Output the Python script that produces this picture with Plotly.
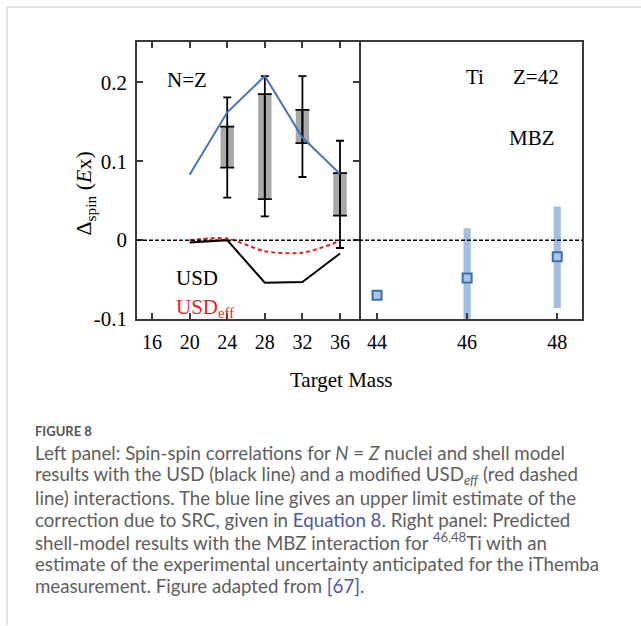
import plotly.graph_objects as go

W, H = 641, 640      # layout size
HT = 626             # target picture height used for positioning

# ---------------- data ----------------
mass_nz = [20, 24, 28, 32, 36]
src_upper = [0.083, 0.162, 0.208, 0.130, 0.084]
usd = [-0.003, 0.0, -0.054, -0.053, -0.017]
usd_eff = [0.0, 0.002, -0.014, -0.016, -0.001]

mass_exp = [24, 28, 32, 36]
err_lo = [0.054, 0.030, 0.080, -0.010]
err_hi = [0.181, 0.208, 0.208, 0.126]
box_lo = [0.092, 0.052, 0.123, 0.031]
box_hi = [0.144, 0.185, 0.165, 0.085]

ti_mass = [44, 46, 48]
ti_val = [-0.070, -0.048, -0.021]
unc_mass = [46, 48]
unc_lo = [-0.100, -0.086]
unc_hi = [0.015, 0.0425]

x_left_ticks = [16, 20, 24, 28, 32, 36]
x_right_ticks = [44, 46, 48]
y_ticks = [-0.1, 0, 0.1, 0.2]
y_ticktext = ["-0.1", "0", "0.1", "0.2"]


def px(x):
    return x / W


def py(y):
    return 1 - y / HT


SERIF = "Liberation Serif"
SANS = "Lato"

fig = go.Figure()

# gray boxes
fig.add_trace(go.Bar(
    x=mass_exp, base=box_lo, y=[h - l for h, l in zip(box_hi, box_lo)],
    width=1.42, marker=dict(color="#a8a8a8", line=dict(width=0)),
    xaxis="x", yaxis="y", showlegend=False))

# box top/bottom black lines (as wide caps)
fig.add_trace(go.Scatter(
    x=mass_exp, y=[(h + l) / 2 for h, l in zip(box_hi, box_lo)],
    mode="markers", marker=dict(size=0.1, color="rgba(0,0,0,0)"),
    error_y=dict(type="data", symmetric=True,
                 array=[(h - l) / 2 for h, l in zip(box_hi, box_lo)],
                 width=7, thickness=1.8, color="black"),
    xaxis="x", yaxis="y", showlegend=False))

# error bars
fig.add_trace(go.Scatter(
    x=mass_exp, y=[(h + l) / 2 for h, l in zip(err_hi, err_lo)],
    mode="markers", marker=dict(size=0.1, color="rgba(0,0,0,0)"),
    error_y=dict(type="data", symmetric=True,
                 array=[(h - l) / 2 for h, l in zip(err_hi, err_lo)],
                 width=4, thickness=1.8, color="black"),
    xaxis="x", yaxis="y", showlegend=False))

# blue SRC upper limit
fig.add_trace(go.Scatter(x=mass_nz, y=src_upper, mode="lines",
                         line=dict(color="#4472c4", width=2),
                         xaxis="x", yaxis="y", showlegend=False))
# USD
fig.add_trace(go.Scatter(x=mass_nz, y=usd, mode="lines",
                         line=dict(color="black", width=2),
                         xaxis="x", yaxis="y", showlegend=False))
# USD_eff
fig.add_trace(go.Scatter(x=mass_nz, y=usd_eff, mode="lines",
                         line=dict(color="#ee1c1c", width=2, dash="4px,3px",
                                   shape="spline", smoothing=0.8),
                         xaxis="x", yaxis="y", showlegend=False))

# right panel uncertainty bars
fig.add_trace(go.Bar(
    x=unc_mass, base=unc_lo, y=[h - l for h, l in zip(unc_hi, unc_lo)],
    width=0.16, marker=dict(color="rgba(120,163,214,0.7)", line=dict(width=0)),
    xaxis="x2", yaxis="y2", showlegend=False))

# right panel squares
fig.add_trace(go.Scatter(
    x=ti_mass, y=ti_val, mode="markers",
    marker=dict(symbol="square", size=9, color="#a9c6e8",
                line=dict(color="#3d6fae", width=2)),
    xaxis="x2", yaxis="y2", showlegend=False))

frame = "#3a3a3a"
ydom = [py(318), py(42)]
x1dom = [px(137), px(359)]
x2dom = [px(359), px(582)]

fig.update_layout(
    width=W, height=H,
    margin=dict(l=0, r=0, t=0, b=0),
    paper_bgcolor="white", plot_bgcolor="rgba(0,0,0,0)",
    barmode="overlay",
    xaxis=dict(domain=x1dom, range=[14.4, 38.02], tickvals=x_left_ticks,
               ticks="inside", ticklen=6, tickwidth=1.5, tickcolor=frame,
               showline=True, linecolor=frame, linewidth=1.5, mirror="ticks",
               showgrid=False, zeroline=False, anchor="y",
               tickfont=dict(family=SERIF, size=20, color="black"),
               ticklabelstandoff=4),
    xaxis2=dict(domain=x2dom, range=[43.6, 48.55], tickvals=x_right_ticks,
                ticks="inside", ticklen=6, tickwidth=1.5, tickcolor=frame,
                showline=True, linecolor=frame, linewidth=1.5, mirror=True,
                showgrid=False, zeroline=False, anchor="y2",
                tickfont=dict(family=SERIF, size=20, color="black"),
                ticklabelstandoff=4),
    yaxis=dict(domain=ydom, range=[-0.1, 0.251], tickvals=y_ticks,
               ticktext=y_ticktext,
               ticks="inside", ticklen=6, tickwidth=1.5, tickcolor=frame,
               showline=True, linecolor=frame, linewidth=1.5, mirror="ticks",
               showgrid=False, zeroline=False, anchor="x",
               tickfont=dict(family=SERIF, size=21, color="black"),
               ticklabelstandoff=4),
    yaxis2=dict(domain=ydom, range=[-0.1, 0.251], showticklabels=False,
                ticks="", showline=True, linecolor=frame, linewidth=1.5,
                side="right", mirror=False, showgrid=False, zeroline=False,
                anchor="x2"),
)

# zero dashed reference lines
for xr, yr in (("x domain", "y"), ("x2 domain", "y2")):
    fig.add_shape(type="line", xref=xr, yref=yr, x0=0, x1=1, y0=0, y1=0,
                  line=dict(color="black", width=1.5, dash="4px,2px"))

# page border lines
fig.add_shape(type="line", xref="paper", yref="paper",
              x0=px(7), x1=1, y0=py(7), y1=py(7),
              line=dict(color="#c8c8c8", width=1))
fig.add_shape(type="line", xref="paper", yref="paper",
              x0=px(7), x1=px(7), y0=py(7), y1=py(623),
              line=dict(color="#c8c8c8", width=1))


def ann(text, x, y, size=21, color="black", family=SERIF, xanchor="center",
        yanchor="middle", angle=0, weight=None):
    f = dict(family=family, size=size, color=color)
    if weight:
        f["weight"] = weight
    fig.add_annotation(text=text, x=px(x), y=py(y), xref="paper", yref="paper",
                       showarrow=False, xanchor=xanchor, yanchor=yanchor,
                       textangle=angle, font=f)


ann("N=Z", 187, 80)
ann("Ti", 475, 77)
ann("Z=42", 536, 77)
ann("MBZ", 532, 138)
ann("USD", 197, 277)
ann("USD<sub>eff</sub>", 174, 307, color="#ee1c1c", xanchor="left")
ann("Target Mass", 341, 379)
ann("Δ<sub>spin</sub> (<i>E</i>x)", 85, 193, size=22, angle=-90)

# caption
CAP = "#5e5e5e"
LINK = "#4b57a8"
ann("FIGURE 8", 33, 430, size=13, color="#555555", family=SANS,
    xanchor="left", weight=700)
cap_lines = [
    "Left panel: Spin-spin correlations for <i>N</i> = <i>Z</i> nuclei and shell model",
    "results with the USD (black line) and a modified USD<sub><i>eff</i></sub> (red dashed",
    "line) interactions. The blue line gives an upper limit estimate of the",
    "correction due to SRC, given in <span style='color:" + LINK + "'>Equation 8</span>. Right panel: Predicted",
    "shell-model results with the MBZ interaction for <sup>46,48</sup>Ti with an",
    "estimate of the experimental uncertainty anticipated for the iThemba",
    "measurement. Figure adapted from <span style='color:" + LINK + "'>[67]</span>.",
]
for i, line in enumerate(cap_lines):
    ann(line, 33, 452 + 22 * i, size=18.7, color=CAP, family=SANS, xanchor="left")

fig.write_html("out.html", config={"displayModeBar": False},
               post_script="document.body.style.margin='0';")
